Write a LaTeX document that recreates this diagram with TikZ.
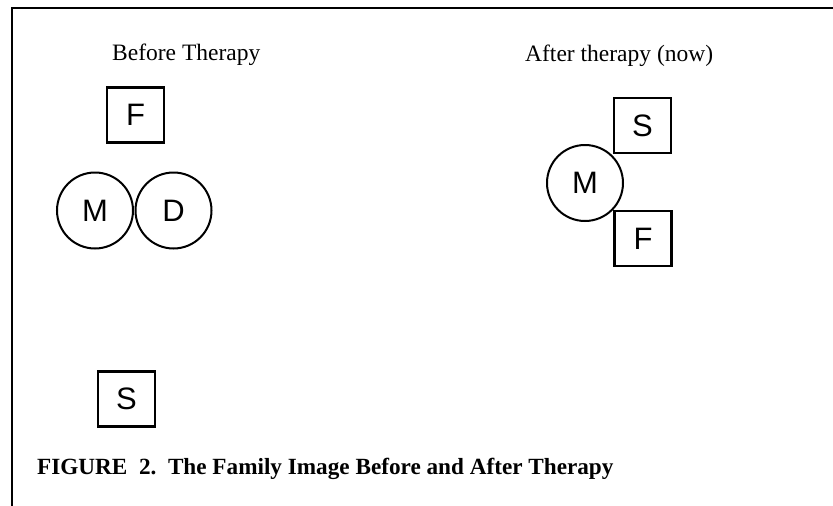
\documentclass[tikz,border=0pt]{standalone}
\usepackage{fontspec}
\setmainfont{Liberation Serif}
\newfontfamily\lettersans{Liberation Sans}
\begin{document}
\begin{tikzpicture}[x=1pt,y=-1pt,
  person/.style={draw,line width=2.3pt,inner sep=0pt,font=\lettersans\fontsize{31}{31}\selectfont},
  male/.style={person,rectangle,minimum width=57pt,minimum height=55pt},
  female/.style={person,circle,line width=2pt,minimum size=76pt},
  heading/.style={anchor=base west,inner sep=0pt,font=\fontsize{23.5}{26}\selectfont},
  caption/.style={anchor=base west,inner sep=0pt,font=\bfseries\fontsize{23.2}{26}\selectfont}]
\useasboundingbox (0,0) rectangle (833,506);
% frame
\coordinate (tl) at (12,8);
\coordinate (tr) at (833,8);
\coordinate (bl) at (12,506);
\draw[line width=2.8pt] (tr) -- (tl) -- (bl);
% headings
\node[heading] (hbefore) at (112,60) {Before Therapy};
\node[heading] (hafter) at (525,61) {After therapy (now)};
% before
\node[male] (F1) at (135.5,115) {F};
\node[female] (M1) at (95,210.5) {M};
\node[female] (D1) at (173.5,210.5) {D};
\node[male] (S1) at (126.5,399) {S};
% after
\node[male] (S2) at (642.5,125.5) {S};
\node[female] (M2) at (585,183) {M};
\node[male] (F2) at (643,238.5) {F};
% caption
\node[caption] (cap) at (37,474) {FIGURE\ \ 2.\ \ The Family Image Before and After Therapy};
\end{tikzpicture}
\end{document}
